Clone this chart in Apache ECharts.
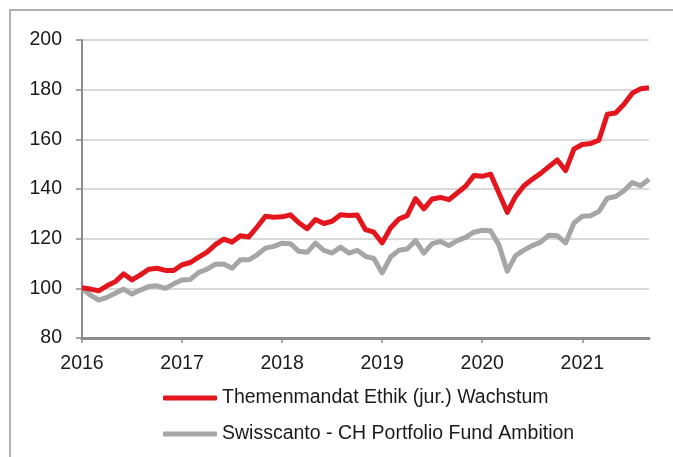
<!DOCTYPE html>
<html>
<head>
<meta charset="utf-8">
<title>Themenmandat Ethik</title>
<script src="https://cdn.jsdelivr.net/npm/echarts@6/dist/echarts.min.js"></script>
<style>
  html, body { margin: 0; padding: 0; background: #fff; }
  #chart { width: 673px; height: 457px; }
</style>
</head>
<body>
<div id="chart"></div>
<script>
// monthly index values, Jan 2016 - Sep 2021 (start = 100)
const firstYear = 2016
const monthCount = 69
const yearLabels = ['2016', '2017', '2018', '2019', '2020', '2021']

const ethikName = 'Themenmandat Ethik (jur.) Wachstum'
const ethikValues = [
  100.2, 99.7, 99.0, 101.0, 102.7, 105.8, 103.4, 105.4, 107.7, 108.1, 107.2, 107.2,
  109.5, 110.4, 112.6, 114.6, 117.6, 119.8, 118.6, 121.2, 120.7, 124.7, 129.0, 128.6,
  128.8, 129.6, 126.4, 124.0, 127.7, 126.1, 127.0, 129.6, 129.3, 129.5, 123.6, 122.6,
  118.3, 124.3, 127.9, 129.3, 136.1, 132.0, 136.0, 136.6, 135.7, 138.4, 141.1, 145.4,
  145.1, 146.0, 138.4, 130.6, 137.0, 141.3, 143.9, 146.3, 149.0, 151.7, 147.4, 156.1,
  157.9, 158.3, 159.7, 170.1, 170.6, 174.1, 178.6, 180.4, 180.8
]

const ambitionName = 'Swisscanto - CH Portfolio Fund Ambition'
const ambitionValues = [
  100.0, 97.3, 95.3, 96.4, 98.0, 99.7, 97.7, 99.3, 100.7, 101.0, 100.0, 101.8,
  103.4, 103.6, 106.4, 107.7, 109.7, 109.8, 108.1, 111.5, 111.5, 113.5, 116.2, 116.9,
  118.2, 118.0, 114.9, 114.5, 118.2, 115.3, 114.2, 116.6, 114.2, 115.3, 112.9, 112.0,
  106.2, 112.6, 115.3, 115.8, 119.2, 114.2, 118.0, 118.9, 117.2, 119.2, 120.5, 122.6,
  123.4, 123.2, 117.5, 106.9, 113.2, 115.4, 117.2, 118.6, 121.4, 121.2, 118.3, 126.3,
  129.0, 129.2, 131.0, 136.3, 137.0, 139.3, 142.6, 141.3, 143.9
]

// month categories like 2016-01
const months = []
for (let i = 0; i < monthCount; i++) {
  const y = firstYear + Math.floor(i / 12)
  const m = (i % 12) + 1
  months.push(y + '-' + (m < 10 ? '0' + m : m))
}

const textFont = "'Liberation Sans', Arial, sans-serif"
const redColor = '#e3161e'
const greyColor = '#a6a6a6'

const chart = echarts.init(document.getElementById('chart'))
const option = {
  animation: false,
  backgroundColor: '#fff',
  textStyle: { fontFamily: textFont },
  graphic: [
    {
      // outer frame
      type: 'rect',
      shape: { x: 10, y: 10, width: 700, height: 500 },
      style: { fill: 'none', stroke: '#9a9a9a', lineWidth: 1.5 },
      silent: true
    }
  ],
  grid: {
    left: 82,
    right: 24,
    top: 40,
    bottom: 119
  },
  legend: {
    orient: 'vertical',
    left: 158,
    top: 383,
    icon: 'roundRect',
    itemWidth: 54,
    itemHeight: 5,
    itemGap: 16,
    textStyle: {
      fontFamily: textFont,
      fontSize: 19.5,
      lineHeight: 20,
      color: '#1a1a1a'
    },
    data: [ethikName, ambitionName]
  },
  xAxis: {
    type: 'category',
    data: months,
    boundaryGap: false,
    axisLine: { lineStyle: { color: '#8c8c8c', width: 3 } },
    axisTick: {
      length: 5,
      interval: function(index) { return index % 12 === 0 },
      lineStyle: { color: '#8c8c8c', width: 1.5 }
    },
    axisLabel: {
      interval: function(index) { return index % 12 === 0 },
      formatter: function(value, index) { return yearLabels[Math.floor(index / 12)] },
      margin: 16,
      fontSize: 19.5,
      color: '#1a1a1a',
      fontFamily: textFont
    },
    splitLine: { show: false }
  },
  yAxis: {
    type: 'value',
    min: 80,
    max: 200,
    interval: 20,
    axisLine: { show: true, lineStyle: { color: '#8c8c8c', width: 2 } },
    axisTick: { show: true, length: 6, lineStyle: { color: '#8c8c8c', width: 1.5 } },
    axisLabel: {
      margin: 20,
      fontSize: 19.5,
      color: '#1a1a1a',
      fontFamily: textFont
    },
    splitLine: { lineStyle: { color: '#d9d9d9', width: 2 } }
  },
  series: [
    {
      name: ambitionName,
      type: 'line',
      data: ambitionValues,
      symbol: 'none',
      z: 2,
      itemStyle: { color: greyColor },
      lineStyle: { color: greyColor, width: 5, join: 'round' }
    },
    {
      name: ethikName,
      type: 'line',
      data: ethikValues,
      symbol: 'none',
      z: 3,
      itemStyle: { color: redColor },
      lineStyle: { color: redColor, width: 5, join: 'round' }
    }
  ]
}
chart.setOption(option)
</script>
</body>
</html>
